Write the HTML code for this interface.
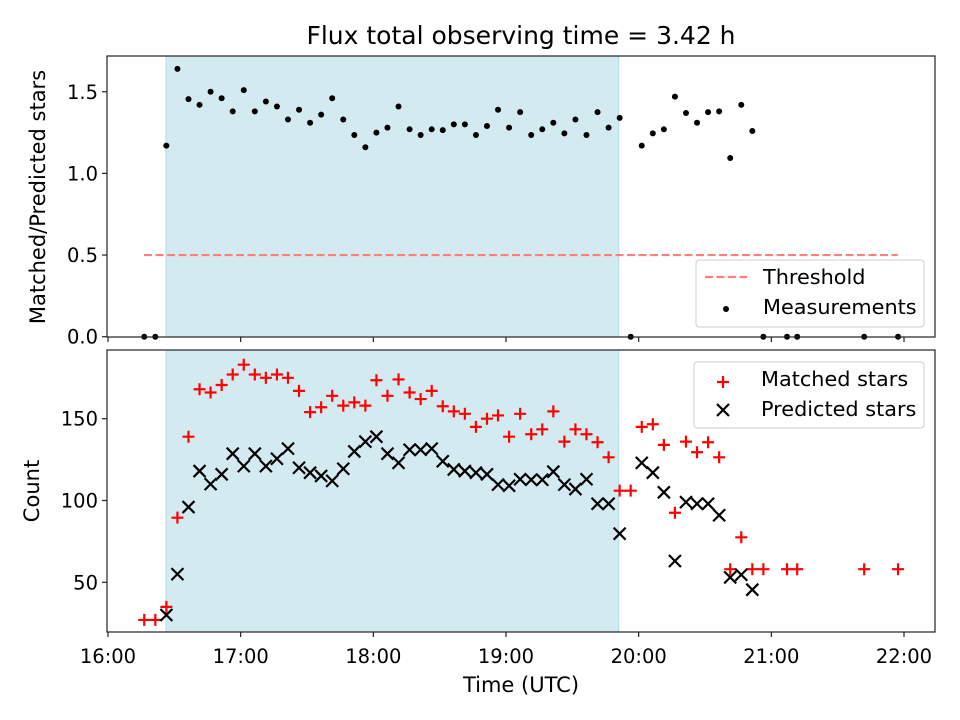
<!DOCTYPE html>
<html><head><meta charset="utf-8"><style>
body{margin:0;background:#fff}
svg{display:block;font-family:"DejaVu Sans","Liberation Sans",sans-serif}
</style></head><body>
<svg id="chart" width="960" height="720" viewBox="0 0 960 720" xmlns="http://www.w3.org/2000/svg">
<rect width="960" height="720" fill="#fff"/>
<g id="g"></g>
</svg>
<script>
// minutes after 16:00
const times = [16.4,21.4,26.4,31.4,36.4,41.4,46.4,51.4,56.4,61.4,66.4,71.4,76.4,81.4,86.4,91.4,96.4,101.4,106.4,111.4,116.4,121.4,126.4,131.4,136.4,141.4,146.4,151.4,156.4,161.4,166.4,171.4,176.4,181.4,186.4,191.4,196.4,201.4,206.4,211.4,216.4,221.4,226.4,231.4,236.4,241.4,246.4,251.4,256.4,261.4,266.4,271.4,276.4,281.4,286.4,291.4,296.4,307.1,311.7,342.0,357.3];
const ratio = [0,0,1.17,1.64,1.455,1.42,1.50,1.46,1.38,1.51,1.38,1.44,1.41,1.33,1.39,1.31,1.36,1.46,1.33,1.235,1.16,1.25,1.28,1.41,1.27,1.235,1.27,1.265,1.30,1.30,1.235,1.29,1.39,1.28,1.375,1.235,1.27,1.31,1.245,1.33,1.235,1.375,1.28,1.34,0,1.17,1.245,1.27,1.47,1.37,1.31,1.375,1.38,1.094,1.42,1.26,0,0,0,0,0];
const matched = [27,27,35,89.5,139,168,166,170.6,177,183,177,175,177,175,167,154,157,164,158,160,158,173.5,164,174,166,162,167,157.6,154.5,153,145,150,152,139,153,140.5,143.5,154.5,136,143.5,140.5,135.6,126.4,106,106,145,146.6,134,92.5,136,129.5,135.6,126.4,58,77.5,58,58,58,58,58,58];
const predicted = [null,null,30,55,96,118,110,116,128.6,121,128.6,121,125.5,131.7,120,117,115,112,119.4,130,136,139,128.6,123,131,131,131.7,124,119,118,117,116,109.7,109,113,112.7,112.7,117.6,109.7,107,113,98,98,79.7,null,123,117,105,63,99,98,98,91,53,54.6,45.5,null,null,null,null,null];
const xTickLabels = ["16:00","17:00","18:00","19:00","20:00","21:00","22:00"];
const xTickMinutes = [0,60,120,180,240,300,360];
const topTicks = [0.0,0.5,1.0,1.5];
const botTicks = [50,100,150];
const threshold = 0.5;
const thrRange = [16.3,357.2];
const shade = [26.2,231];

const NS="http://www.w3.org/2000/svg";
const g=document.getElementById('g');
function mk(tag,attrs,parent){const e=document.createElementNS(NS,tag);for(const k in attrs)e.setAttribute(k,attrs[k]);(parent||g).appendChild(e);return e;}
const L=107,R=935;
const X=m=>108+m*(796/360);
const T={top:56,bot:337}, B={top:350,bot:632};
const Yt=v=>336.7-v*163.3;
const Yb=v=>582.3-(v-50)*1.636;

function panel(P,name){
  const grp=mk('g',{});
  
  
  const sh=mk('rect',{x:X(shade[0]),y:P.top,width:X(shade[1])-X(shade[0]),height:P.bot-P.top,fill:'#d4eaf1',stroke:'#b5dbe8','stroke-width':1},grp);
  
  
  return grp;
}
function frame(P,grp,labels){
  const f=mk('rect',{x:L,y:P.top,width:R-L,height:P.bot-P.top,fill:'none',stroke:'#222','stroke-width':1.2},grp);
  
  
  xTickMinutes.forEach((m,i)=>{
    mk('line',{x1:X(m),x2:X(m),y1:P.bot,y2:P.bot+5,stroke:'#222','stroke-width':1.2},grp);
    if(labels){const t=mk('text',{x:X(m),y:663,'font-size':19.5,'text-anchor':'middle',fill:'#000'},grp);t.textContent=xTickLabels[i];
      
      }
  });
}
// TOP
const gt=panel(T,'ratio-panel');
const thr=mk('line',{x1:X(thrRange[0]),x2:X(thrRange[1]),y1:Yt(threshold),y2:Yt(threshold),stroke:'#ff7f7f','stroke-width':2.2,'stroke-dasharray':'8,3.5'},gt);


times.forEach((m,i)=>{const c=mk('circle',{cx:X(m),cy:Yt(ratio[i]),r:3,fill:'#000'},gt);
  
  });
frame(T,gt,false);
topTicks.forEach(v=>{mk('line',{x1:L,x2:L-5,y1:Yt(v),y2:Yt(v),stroke:'#222','stroke-width':1.2},gt);
  const t=mk('text',{x:L-9,y:Yt(v)+7,'font-size':19.5,'text-anchor':'end'},gt);t.textContent=v.toFixed(1);
  
  });
// BOTTOM
const gb=panel(B,'count-panel');
times.forEach((m,i)=>{const x=X(m),y=Yb(matched[i]);
  const p=mk('path',{d:`M${x-6},${y}H${x+6}M${x},${y-6}V${y+6}`,stroke:'#f00','stroke-width':2.2,fill:'none'},gb);
  
  });
times.forEach((m,i)=>{if(predicted[i]==null)return;const x=X(m),y=Yb(predicted[i]);
  const p=mk('path',{d:`M${x-6},${y-6}L${x+6},${y+6}M${x-6},${y+6}L${x+6},${y-6}`,stroke:'#000','stroke-width':2.2,fill:'none'},gb);
  
  });
frame(B,gb,true);
botTicks.forEach(v=>{mk('line',{x1:L,x2:L-5,y1:Yb(v),y2:Yb(v),stroke:'#222','stroke-width':1.2},gb);
  const t=mk('text',{x:L-9,y:Yb(v)+7,'font-size':19.5,'text-anchor':'end'},gb);t.textContent=v;
  
  });
</script>
<svg style="position:absolute;left:0;top:0" width="960" height="720" font-family="DejaVu Sans, Liberation Sans, sans-serif">
<text x="521" y="44" font-size="25" text-anchor="middle">Flux total observing time = 3.42 h</text>
<text transform="translate(45,197) rotate(-90)" font-size="21" text-anchor="middle">Matched/Predicted stars</text>
<text transform="translate(39,491) rotate(-90)" font-size="21" text-anchor="middle">Count</text>
<text x="521" y="692" font-size="21" text-anchor="middle">Time (UTC)</text>
<g font-size="20.8">
<rect x="696" y="260" width="228" height="67" rx="3" fill="#fff" fill-opacity="0.8" stroke="#ccc"/>
<line x1="705" x2="747" y1="277" y2="277" stroke="#ff7f7f" stroke-width="2.2" stroke-dasharray="8,3.5"/>
<text x="763" y="284">Threshold</text>
<circle cx="726" cy="309" r="3" fill="#000"/>
<text x="763" y="314">Measurements</text>
</g>
<g font-size="20.8">
<rect x="694" y="362" width="230" height="66" rx="3" fill="#fff" fill-opacity="0.8" stroke="#ccc"/>
<path d="M717,382H729M723,376V388" stroke="#f00" stroke-width="2.2"/>
<text x="761" y="386">Matched stars</text>
<path d="M717,404L729,416M717,416L729,404" stroke="#000" stroke-width="2.2"/>
<text x="761" y="416">Predicted stars</text>
</g>
</svg>
</body></html>
